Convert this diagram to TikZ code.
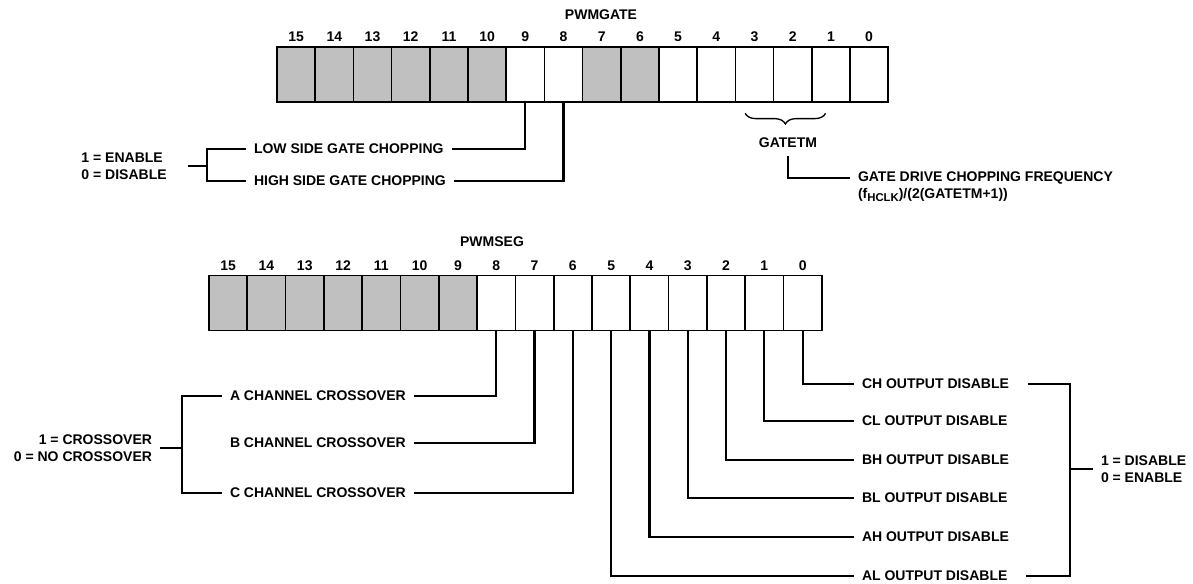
\documentclass[tikz,border=0pt]{standalone}
\usepackage{fontspec}
\setmainfont{Liberation Sans}
\usetikzlibrary{decorations.pathreplacing}
\definecolor{rsvgray}{RGB}{192,192,192}
\tikzset{
  bit/.style={draw, line width=1.2pt, minimum width=28.7pt, minimum height=41pt, inner sep=0pt},
  rsv/.style={bit, fill=rsvgray},
  wire/.style={line width=1.7pt},
  txt/.style={inner sep=0pt, outer sep=6pt},
}

\begin{document}
\begin{tikzpicture}[x=0.75pt, y=-0.75pt, font=\bfseries\fontsize{10.5}{12.6}\selectfont]
\useasboundingbox (0,0) rectangle (1193,583);

% PWMGATE register
\node [txt] (gatereg) at (601, 15) {PWMGATE};
\foreach \b in {9,8,5,4,3,2,1,0}
  \node [bit, label=above:{\b}] (g\b) at ({277+(15.5-\b)*38.2}, 74.5) {};
\foreach \b in {15,...,10,7,6}
  \node [rsv, label=above:{\b}] (g\b) at ({277+(15.5-\b)*38.2}, 74.5) {};

\node [txt, anchor=west] (lowside) at (246, 149) {LOW SIDE GATE CHOPPING};
\node [txt, anchor=west] (highside) at (246, 181) {HIGH SIDE GATE CHOPPING};
\node [txt, align=left, anchor=east, outer xsep=16pt] (chopen) at (188, 166) {1 = ENABLE\\0 = DISABLE};
\coordinate (chopbr) at (207, 166);
\draw [wire] (g9.south) |- (lowside.east);
\draw [wire] (g8.south) |- (highside.east);
\draw [wire] (lowside.west) -| (chopbr) |- (highside.west);
\draw [wire] (chopen.east) -- (chopbr);

\draw [decorate, decoration={brace, mirror, amplitude=8pt}, line width=1pt] ([xshift=-7pt, yshift=-8pt]g3.south) -- ([xshift=-4pt, yshift=-8pt]g1.south);
\node [txt] (gatetm) at (788, 143) {GATETM};
\node [txt, anchor=west] (gatefreq) at (850, 178) {GATE DRIVE CHOPPING FREQUENCY};
\node [txt, anchor=west] (gateeq) at (850, 195) {(f\raisebox{-2.5pt}{\fontsize{8.5}{9}\selectfont HCLK})/(2(GATETM+1))};
\draw [wire] (gatetm.south) |- (gatefreq.west);

% PWMSEG register
\node [txt] (segreg) at (492, 242) {PWMSEG};
\foreach \b in {8,...,0}
  \node [bit, label=above:{\b}] (s\b) at ({209+(15.5-\b)*38.3}, 303) {};
\foreach \b in {15,...,9}
  \node [rsv, label=above:{\b}] (s\b) at ({209+(15.5-\b)*38.3}, 303) {};

% crossover
\node [txt, anchor=west] (achan) at (222, 396) {A CHANNEL CROSSOVER};
\node [txt, anchor=west] (bchan) at (222, 443) {B CHANNEL CROSSOVER};
\node [txt, anchor=west] (cchan) at (222, 493) {C CHANNEL CROSSOVER};
\node [txt, align=right, anchor=east] (xover) at (160, 448) {1 = CROSSOVER\\0 = NO CROSSOVER};
\coordinate (xbr) at (182, 448);
\draw [wire] (s8.south) |- (achan.east);
\draw [wire] (s7.south) |- (bchan.east);
\draw [wire] (s6.south) |- (cchan.east);
\draw [wire] (achan.west) -| (xbr) |- (cchan.west);
\draw [wire] (xover.east) -- (xbr);

% output disables
\node [txt, anchor=west] (chout) at (854, 384) {CH OUTPUT DISABLE};
\node [txt, anchor=west] (clout) at (854, 421) {CL OUTPUT DISABLE};
\node [txt, anchor=west] (bhout) at (854, 460) {BH OUTPUT DISABLE};
\node [txt, anchor=west] (blout) at (854, 498) {BL OUTPUT DISABLE};
\node [txt, anchor=west] (ahout) at (854, 537) {AH OUTPUT DISABLE};
\node [txt, anchor=west] (alout) at (854, 576) {AL OUTPUT DISABLE};
\draw [wire] (s0.south) |- (chout.west);
\draw [wire] (s1.south) |- (clout.west);
\draw [wire] (s2.south) |- (bhout.west);
\draw [wire] (s3.south) |- (blout.west);
\draw [wire] (s4.south) |- (ahout.west);
\draw [wire] (s5.south) |- (alout.west);
\coordinate (outbr) at (1070, 469);
\node [txt, align=left, anchor=west] (outen) at (1093, 469) {1 = DISABLE\\0 = ENABLE};
\draw [wire] ([xshift=8pt]chout.east) -| (outbr) |- ([xshift=8pt]alout.east);
\draw [wire] (outbr) -- (outen.west);
\end{tikzpicture}
\end{document}
